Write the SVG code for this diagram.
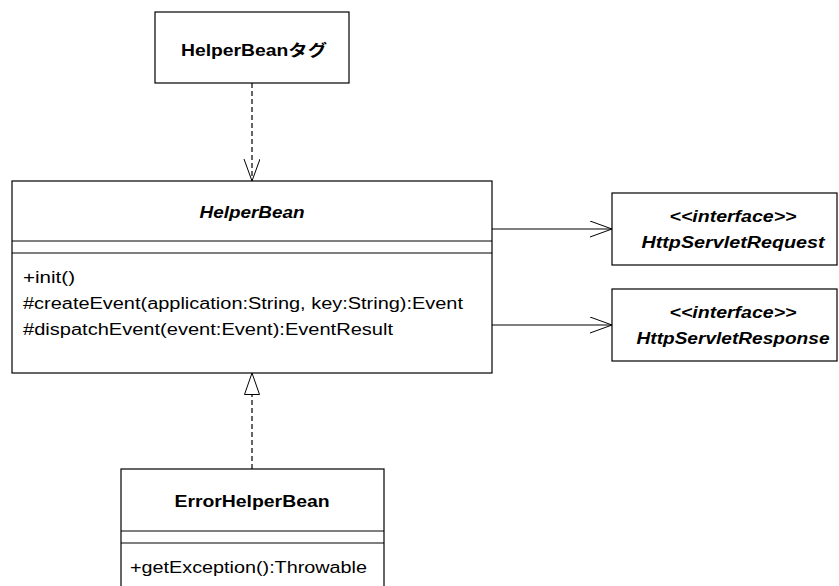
<svg xmlns="http://www.w3.org/2000/svg" width="839" height="586" viewBox="0 0 839 586">
<defs>
<style>
.box{fill:#fff;stroke:#000;stroke-width:1.2}
.ln{stroke:#000;stroke-width:1.2;fill:none}
.t{font-family:"Liberation Sans","Noto Sans CJK JP",sans-serif;font-size:16px;fill:#000}
.b{font-weight:bold;font-size:16px}
.i{font-style:italic;font-weight:bold;font-size:16px}
.c{text-anchor:middle}
</style>
<marker id="open" markerWidth="24" markerHeight="18" refX="22" refY="8" orient="auto" markerUnits="userSpaceOnUse">
<path d="M0,0 L22,8 L0,16" fill="none" stroke="#000" stroke-width="1"/>
</marker>
<marker id="tri" markerWidth="24" markerHeight="18" refX="22" refY="8" orient="auto" markerUnits="userSpaceOnUse">
<path d="M0.5,0.5 L22,8 L0.5,15.5 Z" fill="#fff" stroke="#000" stroke-width="1"/>
</marker>
</defs>
<rect width="839" height="586" fill="#fff"/>
<g id="connectors">
<line class="ln" x1="252" y1="83" x2="252" y2="181" stroke-dasharray="5,3" marker-end="url(#open)"/>
<line class="ln" x1="252" y1="469" x2="252" y2="373" stroke-dasharray="5,3" marker-end="url(#tri)"/>
<line class="ln" x1="492" y1="229" x2="612" y2="229" marker-end="url(#open)"/>
<line class="ln" x1="492" y1="325" x2="612" y2="325" marker-end="url(#open)"/>
</g>
<g id="HelperBeanTag">
<rect class="box" x="155" y="12" width="194" height="71"/>
<text class="t b c" x="254" y="56" textLength="146" lengthAdjust="spacingAndGlyphs">HelperBeanタグ</text>
</g>
<g id="HelperBean">
<rect class="box" x="12" y="181" width="480" height="192"/>
<line class="ln" x1="12" y1="241" x2="492" y2="241"/>
<line class="ln" x1="12" y1="253" x2="492" y2="253"/>
<text class="t i c" x="252" y="218" textLength="105" lengthAdjust="spacingAndGlyphs">HelperBean</text>
<text class="t" x="23" y="283" textLength="52" lengthAdjust="spacingAndGlyphs">+init()</text>
<text class="t" x="23" y="309" textLength="440" lengthAdjust="spacingAndGlyphs">#createEvent(application:String, key:String):Event</text>
<text class="t" x="23" y="335" textLength="370" lengthAdjust="spacingAndGlyphs">#dispatchEvent(event:Event):EventResult</text>
</g>
<g id="HttpServletRequest">
<rect class="box" x="612" y="193" width="225" height="72"/>
<text class="t i c" x="733" y="222" textLength="127" lengthAdjust="spacingAndGlyphs">&lt;&lt;interface&gt;&gt;</text>
<text class="t i c" x="733" y="248" textLength="183" lengthAdjust="spacingAndGlyphs">HttpServletRequest</text>
</g>
<g id="HttpServletResponse">
<rect class="box" x="612" y="289" width="225" height="72"/>
<text class="t i c" x="733" y="318" textLength="127" lengthAdjust="spacingAndGlyphs">&lt;&lt;interface&gt;&gt;</text>
<text class="t i c" x="733" y="344" textLength="193" lengthAdjust="spacingAndGlyphs">HttpServletResponse</text>
</g>
<g id="ErrorHelperBean">
<rect class="box" x="121" y="469" width="263" height="130"/>
<line class="ln" x1="121" y1="531" x2="384" y2="531"/>
<line class="ln" x1="121" y1="543" x2="384" y2="543"/>
<text class="t b c" x="252" y="507" textLength="155" lengthAdjust="spacingAndGlyphs">ErrorHelperBean</text>
<text class="t" x="130" y="573" textLength="237" lengthAdjust="spacingAndGlyphs">+getException():Throwable</text>
</g>
</svg>
